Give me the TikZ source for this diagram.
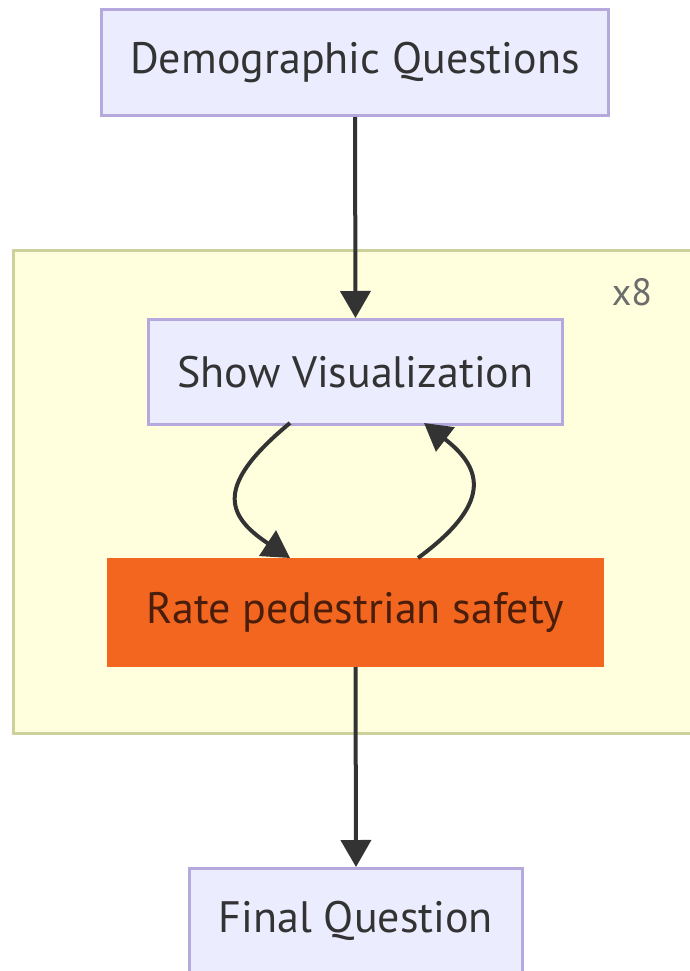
\documentclass[tikz,border=0pt]{standalone}
\usepackage{fontspec}
\setmainfont{PT Sans}
\usetikzlibrary{arrows.meta}
\definecolor{nodefill}{HTML}{ECECFF}
\definecolor{nodeline}{HTML}{B4A8DC}
\definecolor{grpfill}{HTML}{FFFFDE}
\definecolor{grpline}{HTML}{CDD29A}
\definecolor{rateorange}{HTML}{F2661F}
\definecolor{ratetext}{HTML}{4A1E0A}
\definecolor{inkline}{HTML}{333333}
\tikzset{
  box/.style={draw=nodeline, line width=3pt, fill=nodefill, text=inkline, font=\fontsize{44}{50}\selectfont, inner sep=0pt, anchor=north west},
  flow/.style={draw=inkline, line width=4pt, -{Triangle[length=27pt,width=30pt]}},
}
\begin{document}
\begin{tikzpicture}[x=1pt,y=-1pt]
\useasboundingbox (0,0) rectangle (690,971);
\fill[white] (0,0) rectangle (690,971);
% group
\node[draw=grpline, line width=3pt, fill=grpfill, minimum width=680pt, minimum height=483pt, anchor=north west, inner sep=0pt] (grp) at (12,249) {};
\node[text=gray!85!black, font=\fontsize{38}{42}\selectfont, anchor=center] (rep) at (632,292) {x8};
% nodes
\node[box, minimum width=507pt, minimum height=106pt] (demo) at (100,8) {Demographic Questions};
\node[box, minimum width=414pt, minimum height=105pt] (show) at (147,318) {Show Visualization};
\node[box, draw=rateorange, fill=rateorange, text=ratetext, minimum width=494pt, minimum height=106pt] (rate) at (107,558) {Rate pedestrian safety};
\node[box, minimum width=333pt, minimum height=104pt] (final) at (188,867) {Final Question};
% connectors
\draw[flow] (demo.south) -- (show.north);
\coordinate (s1) at (290,423);
\coordinate (r1) at (290,558);
\coordinate (r2) at (418,558);
\coordinate (s2) at (424,423);
\draw[flow] (s1) .. controls (215,485) and (225,515) .. (r1);
\draw[flow] (r2) .. controls (490,505) and (485,470) .. (s2);
\draw[flow] (rate.south) -- (final.north);
\end{tikzpicture}
\end{document}
